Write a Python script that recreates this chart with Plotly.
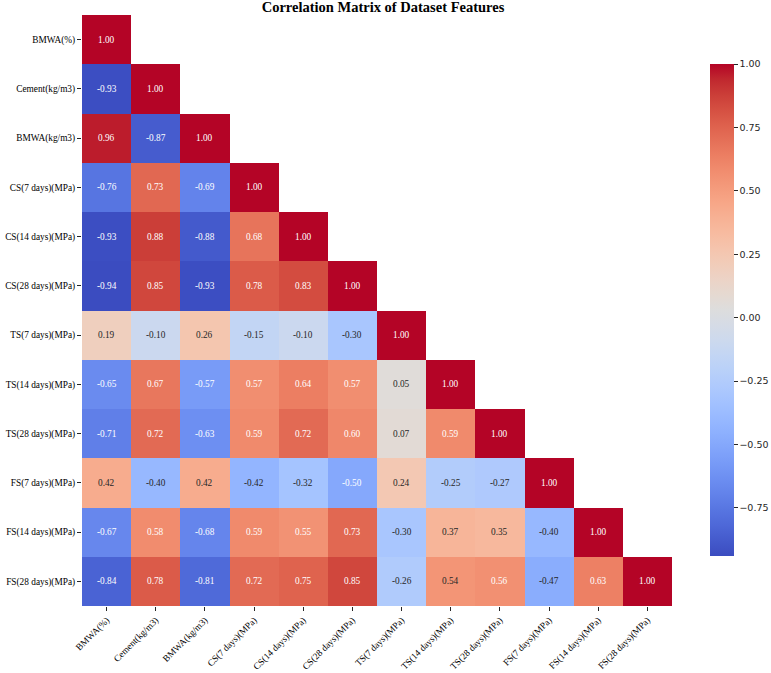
import plotly.graph_objects as go
import numpy as np

labels = ["BMWA(%)", "Cement(kg/m3)", "BMWA(kg/m3)", "CS(7 days)(MPa)", "CS(14 days)(MPa)",
          "CS(28 days)(MPa)", "TS(7 days)(MPa)", "TS(14 days)(MPa)", "TS(28 days)(MPa)",
          "FS(7 days)(MPa)", "FS(14 days)(MPa)", "FS(28 days)(MPa)"]

row_bmwa_pct = [1.00]
row_cement = [-0.93, 1.00]
row_bmwa_kg = [0.96, -0.87, 1.00]
row_cs7 = [-0.76, 0.73, -0.69, 1.00]
row_cs14 = [-0.93, 0.88, -0.88, 0.68, 1.00]
row_cs28 = [-0.94, 0.85, -0.93, 0.78, 0.83, 1.00]
row_ts7 = [0.19, -0.10, 0.26, -0.15, -0.10, -0.30, 1.00]
row_ts14 = [-0.65, 0.67, -0.57, 0.57, 0.64, 0.57, 0.05, 1.00]
row_ts28 = [-0.71, 0.72, -0.63, 0.59, 0.72, 0.60, 0.07, 0.59, 1.00]
row_fs7 = [0.42, -0.40, 0.42, -0.42, -0.32, -0.50, 0.24, -0.25, -0.27, 1.00]
row_fs14 = [-0.67, 0.58, -0.68, 0.59, 0.55, 0.73, -0.30, 0.37, 0.35, -0.40, 1.00]
row_fs28 = [-0.84, 0.78, -0.81, 0.72, 0.75, 0.85, -0.26, 0.54, 0.56, -0.47, 0.63, 1.00]

rows = [row_bmwa_pct, row_cement, row_bmwa_kg, row_cs7, row_cs14, row_cs28,
        row_ts7, row_ts14, row_ts28, row_fs7, row_fs14, row_fs28]

colorbar_ticks = [-0.75, -0.50, -0.25, 0.00, 0.25, 0.50, 0.75, 1.00]

n = len(labels)
z = [[(r[j] if j < len(r) else None) for j in range(n)] for r in rows]

# matplotlib "coolwarm" colormap data
cw_red = [0.2298057, 0.26623388, 0.30386891, 0.342804478, 0.38301334, 0.424369608, 0.46666708,
          0.509635204, 0.552953156, 0.596262162, 0.639176211, 0.681291281, 0.722193294,
          0.761464949, 0.798691636, 0.833466556, 0.865395197, 0.897787179, 0.924127593,
          0.944468518, 0.958852946, 0.96732803, 0.969954137, 0.966811177, 0.958003065,
          0.943660866, 0.923944917, 0.89904617, 0.869186849, 0.834620542, 0.795631745,
          0.752534934, 0.705673158]
cw_green = [0.298717966, 0.353094838, 0.406535296, 0.458757618, 0.50941904, 0.558148092,
            0.604562568, 0.648280772, 0.688929332, 0.726149107, 0.759599947, 0.788964712,
            0.813952739, 0.834302879, 0.849786142, 0.860207984, 0.86541021, 0.848937047,
            0.827384882, 0.800927443, 0.769767752, 0.734132809, 0.694266682, 0.650421156,
            0.602842431, 0.551750968, 0.49730856, 0.439559467, 0.378313092, 0.312874446,
            0.24128379, 0.157246067, 0.01555616]
cw_blue = [0.753683153, 0.801466763, 0.84495867, 0.883725899, 0.917387822, 0.945619588,
           0.968154911, 0.98478814, 0.995375608, 0.999836203, 0.998151185, 0.990363227,
           0.976574709, 0.956945269, 0.931688648, 0.901068838, 0.865395561, 0.820880546,
           0.774508472, 0.726736146, 0.678007945, 0.628751763, 0.579375448, 0.530263762,
           0.481775914, 0.434243684, 0.387970225, 0.343229596, 0.300267182, 0.259301199,
           0.220525627, 0.184115123, 0.150232812]
cw_pos = [k / 32 for k in range(33)]
colorscale = [[p, "rgb(%.1f,%.1f,%.1f)" % (r * 255, g * 255, b * 255)]
              for p, r, g, b in zip(cw_pos, cw_red, cw_green, cw_blue)]

vals = [v for r in rows for v in r]
zmin, zmax = min(vals), max(vals)


def cmap(v):
    t = (v - zmin) / (zmax - zmin)
    return [np.interp(t, cw_pos, ch) for ch in (cw_red, cw_green, cw_blue)]


def rel_lum(rgb):
    lin = [c / 12.92 if c <= 0.03928 else ((c + 0.055) / 1.055) ** 2.4 for c in rgb]
    return 0.2126 * lin[0] + 0.7152 * lin[1] + 0.0722 * lin[2]


fig = go.Figure()
fig.add_trace(go.Heatmap(
    z=z, x=labels, y=labels, zmin=zmin, zmax=zmax, colorscale=colorscale,
    hoverongaps=False,
    colorbar=dict(
        x=(710 - 82) / 590, xanchor="left", xpad=0, ypad=0,
        y=(606 - 310) / 591, yanchor="middle",
        len=492, lenmode="pixels", thickness=24, thicknessmode="pixels",
        outlinewidth=0, ticks="outside", ticklen=4, tickcolor="#262626",
        tickvals=colorbar_ticks,
        ticktext=[("%.2f" % t).replace("-", "\u2212") for t in colorbar_ticks],
        tickfont=dict(family="DejaVu Sans", size=9.5, color="#262626"),
    ),
))

annotations = []
for i, r in enumerate(rows):
    for j, v in enumerate(r):
        col = "#262626" if rel_lum(cmap(v)) > 0.408 else "white"
        annotations.append(dict(x=labels[j], y=labels[i], text="%.2f" % v, showarrow=False,
                                font=dict(family="Liberation Serif", size=9.3, color=col)))

fig.update_layout(
    width=771, height=673,
    margin=dict(l=82, r=99, t=15, b=67, autoexpand=False),
    paper_bgcolor="white", plot_bgcolor="white",
    title=dict(text="<b>Correlation Matrix of Dataset Features</b>", x=383 / 771, xanchor="center",
               y=1 - 2 / 673, yanchor="top",
               font=dict(family="Liberation Serif", size=14.5, color="black")),
    annotations=annotations,
    xaxis=dict(range=[-0.5, n - 0.5], showgrid=False, zeroline=False, tickangle=-45,
               ticks="outside", ticklen=4, tickcolor="#262626", automargin=False,
               tickfont=dict(family="Liberation Serif", size=9.3, color="black"), showline=False),
    yaxis=dict(range=[n - 0.5, -0.5], showgrid=False, zeroline=False,
               ticks="outside", ticklen=4, tickcolor="#262626", automargin=False,
               tickfont=dict(family="Liberation Serif", size=9.3, color="black"), showline=False),
)

fig.write_html("out.html")
